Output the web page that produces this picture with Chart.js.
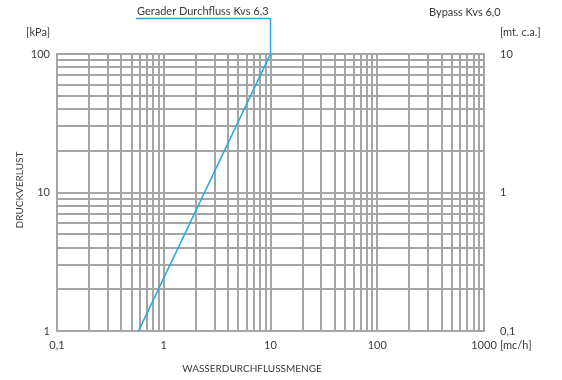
<!DOCTYPE html>
<html>
<head>
<meta charset="utf-8">
<script src="https://cdn.jsdelivr.net/npm/chart.js@4/dist/chart.umd.min.js"></script>
<style>
  html, body { margin: 0; padding: 0; background: #fff; }
  #wrap { width: 562px; height: 380px; }
</style>
</head>
<body>
<div id="wrap"><canvas id="c" width="562" height="380"></canvas></div>
<script>
// Flow (m³/h) against pressure drop (kPa), straight-through curve
const flowValues = [0.58, 10];
const pressureValues = [1, 100];

const xTickLabels = { 0.1: '0,1', 1: '1', 10: '10', 100: '100', 1000: '1000' };
const yTickLabels = { 1: '1', 10: '10', 100: '100' };
const y2TickLabels = { 0.1: '0,1', 1: '1', 10: '10' };

const seriesLabel = 'Gerader Durchfluss Kvs 6,3';
const bypassLabel = 'Bypass Kvs 6,0';
const xTitle = 'WASSERDURCHFLUSSMENGE';
const yTitle = 'DRUCKVERLUST';

const FONT = 'Lato, "Open Sans", sans-serif';
const TEXT = '#3a3a3a';
const GRID = '#a5a5a5';
const BLUE = '#27a9e1';

// 1..9 × 10^n between min and max
function logSteps(min, max) {
  const out = [];
  for (let e = Math.floor(Math.log10(min)); e <= Math.ceil(Math.log10(max)); e++) {
    for (let m = 1; m <= 9; m++) {
      const v = m * Math.pow(10, e);
      if (v >= min * 0.999 && v <= max * 1.001) out.push(+v.toPrecision(6));
    }
  }
  return out;
}

const annotations = {
  id: 'annotations',
  afterDraw(chart) {
    const { ctx, scales } = chart;
    const endX = scales.x.getPixelForValue(flowValues[flowValues.length - 1]);
    const endY = scales.y.getPixelForValue(pressureValues[pressureValues.length - 1]);
    ctx.save();
    // callout from the series label to the curve end
    ctx.strokeStyle = BLUE;
    ctx.lineWidth = 1.5;
    ctx.beginPath();
    ctx.moveTo(136, 18.5);
    ctx.lineTo(endX, 18.5);
    ctx.lineTo(endX, endY);
    ctx.stroke();

    ctx.fillStyle = TEXT;
    ctx.font = '11px ' + FONT;
    ctx.textBaseline = 'middle';
    ctx.textAlign = 'left';
    ctx.fillText(seriesLabel, 137, 11);
    ctx.fillText(bypassLabel, 429, 12);
    ctx.fillText('[mt. c.a.]', 500, 32);
    ctx.fillText('[mc/h]', 500, 345);
    ctx.textAlign = 'right';
    ctx.fillText('[kPa]', 50, 32);

    ctx.font = '10px ' + FONT;
    ctx.textAlign = 'center';
    ctx.fillText(xTitle, 252, 369);
    ctx.translate(20, 190);
    ctx.rotate(-Math.PI / 2);
    ctx.fillText(yTitle, 0, 0);
    ctx.restore();
  }
};

new Chart(document.getElementById('c'), {
  type: 'scatter',
  data: {
    datasets: [{
      label: seriesLabel,
      data: flowValues.map((x, i) => ({ x, y: pressureValues[i] })),
      showLine: true,
      borderColor: BLUE,
      borderWidth: 1.6,
      pointRadius: 0,
      fill: false
    }]
  },
  options: {
    responsive: false,
    animation: false,
    layout: { padding: { top: 54, left: 0, right: 0, bottom: 0 } },
    plugins: { legend: { display: false }, tooltip: { enabled: false } },
    scales: {
      x: {
        type: 'logarithmic',
        min: 0.1, max: 1000,
        afterBuildTicks: s => { s.ticks = logSteps(0.1, 1000).map(v => ({ value: v })); },
        afterFit: s => { s.height = 49; },
        grid: { color: GRID, lineWidth: 2, drawTicks: false },
        border: { color: GRID, width: 2 },
        ticks: {
          autoSkip: false, maxRotation: 0, padding: 8,
          color: TEXT, font: { family: FONT, size: 11 },
          callback: v => xTickLabels[v] ?? ''
        }
      },
      y: {
        type: 'logarithmic',
        position: 'left',
        min: 1, max: 100,
        afterBuildTicks: s => { s.ticks = logSteps(1, 100).map(v => ({ value: v })); },
        afterFit: s => { s.width = 57; },
        grid: { color: GRID, lineWidth: 2, drawTicks: false },
        border: { color: GRID, width: 2 },
        ticks: {
          autoSkip: false, padding: 7,
          color: TEXT, font: { family: FONT, size: 11 },
          callback: v => yTickLabels[v] ?? ''
        }
      },
      y2: {
        type: 'logarithmic',
        position: 'right',
        min: 0.1, max: 10,
        afterBuildTicks: s => { s.ticks = [0.1, 1, 10].map(v => ({ value: v })); },
        afterFit: s => { s.width = 78; },
        grid: { display: false, drawTicks: false },
        border: { color: GRID, width: 2 },
        ticks: {
          autoSkip: false, padding: 16,
          color: TEXT, font: { family: FONT, size: 11 },
          callback: v => y2TickLabels[v] ?? ''
        }
      }
    }
  },
  plugins: [annotations]
});
</script>
</body>
</html>
